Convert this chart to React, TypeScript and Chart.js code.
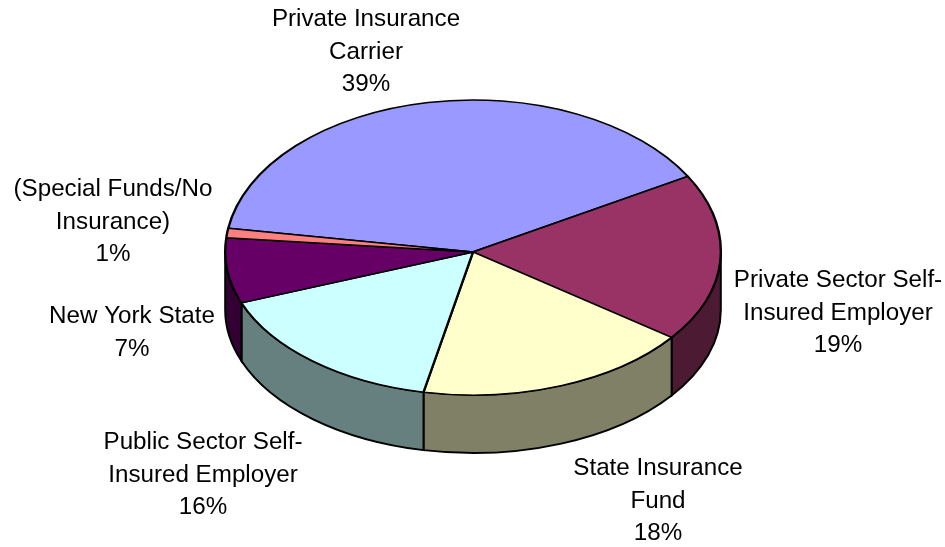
import React, { useEffect, useRef } from "react";
import { Chart, registerables } from "chart.js";

Chart.register(...registerables);

const categories = [
  "Private Insurance Carrier",
  "Private Sector Self-Insured Employer",
  "State Insurance Fund",
  "Public Sector Self-Insured Employer",
  "New York State",
  "(Special Funds/No Insurance)",
];
const shares = [39.2, 18.5, 18.0, 16.0, 7.3, 1.0];
const faceColors = ["#9999FF", "#993366", "#FFFFCC", "#CCFFFF", "#660066", "#FF8080"];
const wallColors = ["#4D4D80", "#4D1A33", "#808066", "#668080", "#330033", "#804040"];
const labelLines = [
  ["Private Insurance", "Carrier"],
  ["Private Sector Self-", "Insured Employer"],
  ["State Insurance", "Fund"],
  ["Public Sector Self-", "Insured Employer"],
  ["New York State"],
  ["(Special Funds/No", "Insurance)"],
];

const WIDTH = 945;
const HEIGHT = 547;
const UPPER_RY = 152;
const LOWER_RY = 143;
const DEPTH = 58;
const LINE_HEIGHT = 32.5;
const labelAnchors = [
  { x: 366, y: 26 },
  { x: 838, y: 287 },
  { x: 658, y: 475 },
  { x: 203, y: 449 },
  { x: 132, y: 323 },
  { x: 113, y: 196 },
];

const pie3d = {
  id: "pie3d",
  beforeDatasetDraw(chart: any, args: any) {
    const { ctx } = chart;
    const arcs = args.meta.data;
    const cx = arcs[0].x;
    const cy = arcs[0].y;
    const R = arcs[0].outerRadius;

    arcs.forEach((arc: any, i: number) => {
      for (let k = -1; k <= 2; k++) {
        const lo = 2 * Math.PI * k;
        const a = Math.max(arc.startAngle, lo);
        const b = Math.min(arc.endAngle, lo + Math.PI);
        if (b <= a) continue;
        ctx.save();
        ctx.beginPath();
        ctx.ellipse(cx, cy, R, LOWER_RY, 0, a, b);
        ctx.ellipse(cx, cy + DEPTH, R, LOWER_RY, 0, b, a, true);
        ctx.closePath();
        ctx.fillStyle = wallColors[i];
        ctx.fill();
        ctx.lineWidth = 2;
        ctx.strokeStyle = "#000";
        ctx.stroke();
        ctx.restore();
      }
    });

    const half = (top: number, h: number, ry: number) => {
      ctx.save();
      ctx.beginPath();
      ctx.rect(0, top, WIDTH, h);
      ctx.clip();
      ctx.translate(0, cy);
      ctx.scale(1, ry / R);
      ctx.translate(0, -cy);
      arcs.forEach((arc: any) => arc.draw(ctx));
      ctx.restore();
    };
    half(0, cy, UPPER_RY);
    half(cy, HEIGHT - cy, LOWER_RY);
    return false;
  },
  afterDatasetsDraw(chart: any) {
    const { ctx } = chart;
    ctx.save();
    ctx.font = '24.2px "Liberation Sans", Arial, sans-serif';
    ctx.fillStyle = "#000";
    ctx.textAlign = "center";
    ctx.textBaseline = "alphabetic";
    labelLines.forEach((lines, i) => {
      const rows = [...lines, `${Math.round(shares[i])}%`];
      rows.forEach((row, r) => {
        ctx.fillText(row, labelAnchors[i].x, labelAnchors[i].y + r * LINE_HEIGHT);
      });
    });
    ctx.restore();
  },
};

export default function App() {
  const ref = useRef<HTMLCanvasElement | null>(null);
  useEffect(() => {
    const chart = new Chart(ref.current as HTMLCanvasElement, {
      type: "pie",
      data: {
        labels: categories,
        datasets: [
          {
            data: shares,
            backgroundColor: faceColors,
            borderColor: "#000",
            borderWidth: 2.4,
          },
        ],
      },
      options: {
        responsive: false,
        animation: false,
        rotation: 279,
        layout: { padding: { left: 224, right: 223, top: 3, bottom: 46 } },
        plugins: { legend: { display: false }, tooltip: { enabled: false } },
      },
      plugins: [pie3d],
    } as any);
    return () => chart.destroy();
  }, []);
  return (
    <div style={{ position: "fixed", left: 0, top: 0, width: WIDTH, height: HEIGHT, background: "#fff" }}>
      <canvas ref={ref} width={WIDTH} height={HEIGHT} style={{ display: "block" }} />
    </div>
  );
}
